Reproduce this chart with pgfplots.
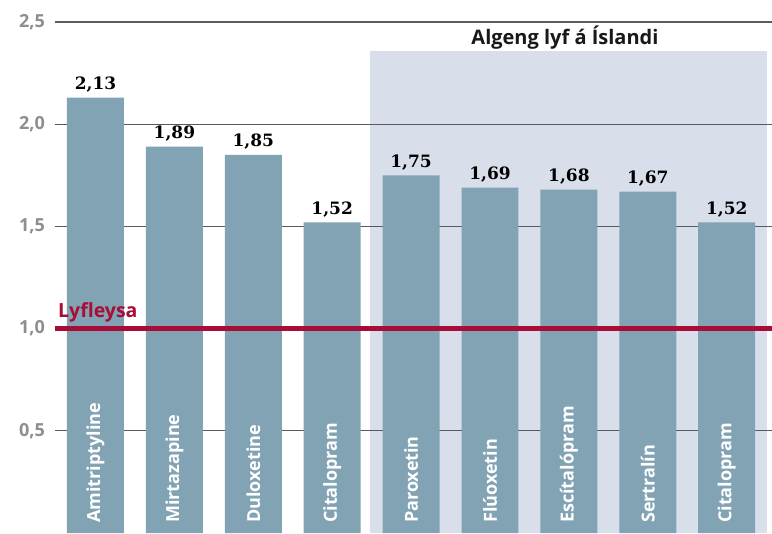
\documentclass[border=0pt]{standalone}
\usepackage{pgfplots}
\pgfplotsset{compat=1.18}
\usepackage{fontspec}
\setmainfont{Open Sans}
\setsansfont{Open Sans}
\newfontfamily\numfont{DejaVu Serif}
\definecolor{barc}{HTML}{82A3B4}
\definecolor{shade}{HTML}{D9DEEB}
\definecolor{redl}{HTML}{A80D38}
\definecolor{tickg}{HTML}{8E8E8E}
\definecolor{gridc}{HTML}{5A5A5A}
\begin{document}
\begin{tikzpicture}
\begin{axis}[
  set layers=standard,
  scale only axis, width=717bp, height=511bp,
  xmin=-0.513, xmax=8.574, ymin=0, ymax=2.5,
  axis line style={draw=none},
  major tick length=0pt,
  xtick=\empty,
  ytick={0.5,1,1.5,2,2.5},
  ymajorgrids,
  grid style={draw=gridc, line width=1.2bp},
  yticklabel style={font=\fontsize{18bp}{21bp}\selectfont\bfseries, text=tickg, inner sep=0pt, xshift=-10bp},
  /pgf/number format/.cd, assume math mode=true, fixed, fixed zerofill, precision=1, use comma,
]
\addplot[fill=shade, draw=none, on layer=axis background] coordinates {(3.479,0) (3.479,2.358) (8.51,2.358) (8.51,0)} -- cycle;
\addplot[ybar, bar width=0.722, fill=barc, draw=none,
  nodes near coords={\pgfmathprintnumber[fixed, fixed zerofill, precision=2, use comma, assume math mode=true]{\pgfplotspointmeta}},
  nodes near coords style={font=\numfont\fontsize{17bp}{20bp}\selectfont\bfseries, text=black, anchor=south, inner sep=0pt, yshift=5bp}]
  coordinates {(0,2.13) (1,1.89) (2,1.85) (3,1.52) (4,1.75) (5,1.69) (6,1.68) (7,1.67) (8,1.52)};
\addplot[draw=redl, line width=5bp, on layer=axis foreground] coordinates {(-0.513,1) (8.574,1)};
\node[on layer=axis foreground, anchor=base west, inner sep=0pt, text=redl, font=\fontsize{19.5bp}{22bp}\selectfont\bfseries] at ([xshift=3bp,yshift=11bp]axis cs:-0.513,1) {Lyfleysa};
\node[anchor=base, inner sep=0pt, text=black!90, font=\fontsize{20bp}{23bp}\selectfont\bfseries] at (axis cs:5.95,2.39) {Algeng lyf á Íslandi};
\begin{scope}[every node/.style={rotate=90, anchor=west, inner sep=0pt, text=white, font=\fontsize{18bp}{21bp}\selectfont\bfseries}]
\node at ([yshift=10bp]axis cs:0,0) {Amitriptyline};
\node at ([yshift=10bp]axis cs:1,0) {Mirtazapine};
\node at ([yshift=10bp]axis cs:2,0) {Duloxetine};
\node at ([yshift=10bp]axis cs:3,0) {Citalopram};
\node at ([yshift=10bp]axis cs:4,0) {Paroxetin};
\node at ([yshift=10bp]axis cs:5,0) {Flúoxetin};
\node at ([yshift=10bp]axis cs:6,0) {Escítalópram};
\node at ([yshift=10bp]axis cs:7,0) {Sertralín};
\node at ([yshift=10bp]axis cs:8,0) {Citalopram};
\end{scope}
\coordinate (LL) at (axis cs:-0.513,0);
\coordinate (UR) at (axis cs:8.574,2.5);
\end{axis}
\pgfresetboundingbox
\path[use as bounding box] ([xshift=-55bp]LL) rectangle ([yshift=22bp]UR);
\end{tikzpicture}
\end{document}
